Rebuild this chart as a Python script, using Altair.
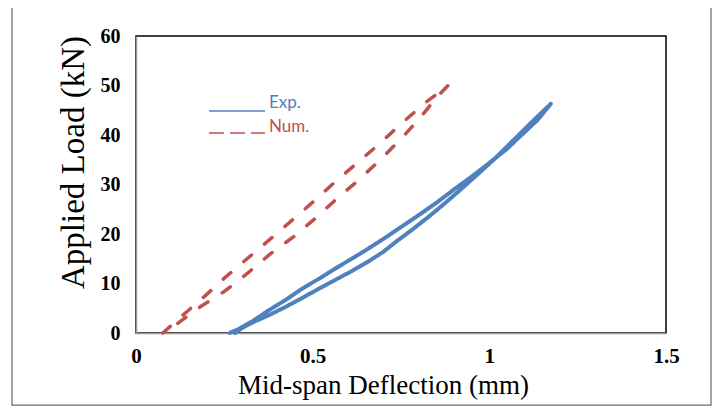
import altair as alt
import pandas as pd

# ---- data ----
exp_x = [0.265, 0.29, 0.33, 0.376, 0.424, 0.471, 0.519, 0.566, 0.613, 0.652, 0.70, 0.75, 0.80,
         0.85, 0.90, 0.95, 0.99, 1.05, 1.10, 1.136, 1.174,
         1.117, 1.069, 1.012, 0.974, 0.927, 0.879, 0.832, 0.784, 0.737, 0.70, 0.661, 0.613,
         0.566, 0.519, 0.471, 0.424, 0.376, 0.329, 0.30, 0.28]
exp_y = [0.0, 0.8, 2.4, 4.6, 6.7, 9.0, 11.0, 13.1, 15.1, 16.8, 19.0, 21.4, 23.8,
         26.3, 29.0, 31.6, 33.8, 37.2, 40.6, 43.0, 46.3,
         42.4, 39.0, 35.0, 32.5, 29.5, 26.5, 23.7, 21.0, 18.5, 16.4, 14.6, 12.6,
         10.8, 9.0, 7.1, 5.3, 3.6, 2.1, 1.0, 0.0]

num_x = [0.076, 0.134, 0.194, 0.255, 0.316, 0.382, 0.442, 0.508, 0.569, 0.630, 0.690, 0.751,
         0.817, 0.883,
         0.852, 0.802, 0.751, 0.690, 0.630, 0.569, 0.508, 0.447, 0.382, 0.316, 0.250, 0.184,
         0.113, 0.080]
num_y = [0.0, 3.7, 7.4, 11.4, 15.1, 19.1, 22.8, 26.9, 30.9, 34.6, 38.3, 42.3,
         46.4, 50.0,
         47.7, 43.3, 39.3, 34.9, 30.9, 27.2, 23.2, 19.5, 16.1, 12.1, 8.4, 5.4,
         1.7, 0.0]

series_names = ["Exp.", "Num."]
x_ticks = [0, 0.5, 1, 1.5]
y_ticks = [0, 10, 20, 30, 40, 50, 60]

BLUE = "#4F81BD"
RED = "#C0504D"

df = pd.concat([
    pd.DataFrame({"x": exp_x, "y": exp_y, "series": "Exp.", "idx": range(len(exp_x))}),
    pd.DataFrame({"x": num_x, "y": num_y, "series": "Num.", "idx": range(len(num_x))}),
], ignore_index=True)

serif = "Liberation Serif"

lines = alt.Chart(df).mark_line(strokeCap="round", strokeJoin="round").encode(
    x=alt.X("x:Q",
            scale=alt.Scale(domain=[0, 1.5], nice=False),
            axis=alt.Axis(values=x_ticks, format="~g", title="Mid-span Deflection (mm)",
                          labelFont=serif, labelFontSize=21, labelFontWeight="bold",
                          labelColor="#000", labelPadding=12, labelFlush=False,
                          labelOverlap=False,
                          titleFont=serif, titleFontSize=27, titleFontWeight="normal",
                          titleColor="#000", titleBaseline="alphabetic",
                          titleX=247, titleY=60, titleAlign="center",
                          ticks=False, grid=False, domainColor="#9a9a9a", domainWidth=1.5)),
    y=alt.Y("y:Q",
            scale=alt.Scale(domain=[0, 60], nice=False),
            axis=alt.Axis(values=y_ticks, title="Applied Load (kN)",
                          labelFont=serif, labelFontSize=20, labelFontWeight="bold",
                          labelColor="#000", labelPadding=16, labelFlush=False,
                          titleFont=serif, titleFontSize=33, titleFontWeight="normal",
                          titleColor="#000", titleBaseline="middle", titleAngle=270,
                          titleX=-63, titleY=126, titleAlign="center",
                          ticks=False, grid=False, domainColor="#9a9a9a", domainWidth=1.5)),
    color=alt.Color("series:N", scale=alt.Scale(domain=series_names, range=[BLUE, RED]), legend=None),
    strokeDash=alt.StrokeDash("series:N", scale=alt.Scale(domain=series_names, range=[[1, 0], [10, 17]]), legend=None),
    strokeWidth=alt.StrokeWidth("series:N", scale=alt.Scale(domain=series_names, range=[4, 3.5]), legend=None),
    order="idx:Q",
    detail="series:N",
)

one = pd.DataFrame({"label": ["Exp."]})
two = pd.DataFrame({"label": ["Num."]})

leg_exp_line = alt.Chart(one).mark_rule(color=BLUE, strokeWidth=1.5).encode(
    x=alt.value(73), x2=alt.value(129), y=alt.value(75))
leg_num_line = alt.Chart(two).mark_rule(color=RED, strokeWidth=1.5, strokeDash=[15, 6]).encode(
    x=alt.value(73), x2=alt.value(129), y=alt.value(97))
leg_exp_text = alt.Chart(one).mark_text(color=BLUE, font="Lato", fontSize=17, align="left",
                                         baseline="middle").encode(
    text="label:N", x=alt.value(133), y=alt.value(67))
leg_num_text = alt.Chart(two).mark_text(color=RED, font="Lato", fontSize=17, align="left",
                                         baseline="middle").encode(
    text="label:N", x=alt.value(133), y=alt.value(91))

frame = alt.Chart(one).mark_rect(fill="transparent", stroke="#6d6d6d", strokeWidth=1.25).encode(
    x=alt.value(-124), x2=alt.value(575), y=alt.value(-29), y2=alt.value(369))

chart = alt.layer(frame, lines, leg_exp_line, leg_num_line, leg_exp_text, leg_num_text).properties(
    width=530, height=297,
    autosize=alt.AutoSizeParams(type="none"),
    padding={"left": 128, "top": 28, "right": 46, "bottom": 75},
    background="white",
).configure_view(stroke="#000", strokeWidth=1.5)

chart.save("out.html", embed_options={"renderer": "svg", "actions": False})
